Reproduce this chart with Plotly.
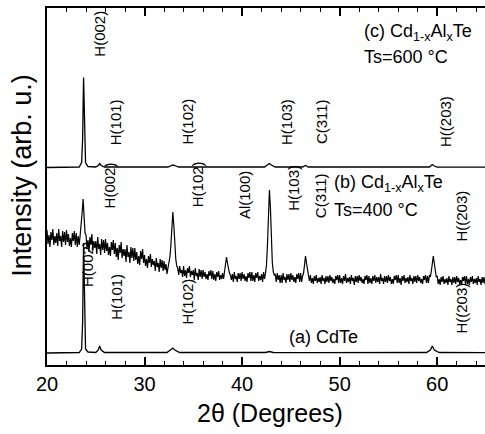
import numpy as np
import plotly.graph_objects as go

# ---- (a) CdTe : peak profile points (2theta, intensity above its baseline)
two_theta_a = [20.0, 23.3, 23.55, 23.65, 23.75, 23.85, 23.95, 24.2,
               25.0, 25.25, 25.4, 25.55, 25.9,
               32.3, 32.7, 32.9, 33.1, 33.6,
               42.4, 42.8, 43.2,
               46.2, 46.5, 46.8,
               58.9, 59.3, 59.5, 59.7, 60.2, 64.9]
intensity_a = [0, 0.5, 4, 30, 110, 28, 4, 1,
               0.5, 3, 7, 3, 0.5,
               0.5, 3, 5, 3, 0.5,
               0.5, 1.5, 0.5,
               0.3, 1, 0.3,
               0.5, 3, 7, 3, 0.5, 0.3]

# ---- (c) Cd1-xAlxTe, Ts = 600 C
two_theta_c = [20.0, 23.3, 23.55, 23.65, 23.75, 23.85, 23.95, 24.2,
               25.0, 25.25, 25.4, 25.55, 25.9,
               32.4, 32.7, 32.9, 33.1, 33.5,
               42.3, 42.6, 42.8, 43.0, 43.4,
               46.2, 46.5, 46.8,
               59.2, 59.5, 59.7, 60.0, 64.9]
intensity_c = [0, 0.5, 5, 28, 90, 25, 5, 1,
               0.5, 2, 4, 2, 0.5,
               0.5, 2, 2.5, 2, 0.5,
               0.5, 2.5, 4, 2.5, 0.5,
               0.5, 2, 0.5,
               0.5, 3, 1.5, 0.3, 0.3]

# ---- (b) Cd1-xAlxTe, Ts = 400 C : measured every 0.1 deg from 20.0 deg
intensity_b = [
    55, 41, 50, 38, 53, 45, 56, 40, 49, 42,   # 20
    52, 39, 56, 44, 49, 38, 54, 43, 53, 40,   # 21
    55, 43, 51, 39, 47, 38, 52, 44, 54, 40,   # 22
    52, 38, 49, 40, 50, 58, 72, 86, 68, 52,   # 23
    50, 36, 45, 33, 48, 40, 51, 35, 44, 37,   # 24
    44, 31, 48, 36, 41, 30, 46, 35, 45, 32,   # 25
    46, 34, 42, 30, 38, 29, 43, 35, 45, 31,   # 26
    42, 28, 37, 25, 40, 32, 43, 27, 36, 29,   # 27
    36, 23, 40, 28, 33, 22, 38, 27, 37, 24,   # 28
    37, 25, 33, 21, 29, 20, 34, 26, 36, 22,   # 29
    30, 19, 26, 17, 29, 22, 31, 18, 26, 20,   # 30
    24, 14, 27, 18, 22, 13, 26, 17, 25, 14,   # 31
    24, 15, 21, 11, 17, 22, 28, 40, 58, 73,   # 32
    60, 40, 26, 19, 17, 10, 19, 12, 15, 8,    # 33
    19, 9, 15, 7, 17, 12, 19, 8, 14, 10,      # 34
    15, 5, 17, 9, 12, 5, 16, 8, 15, 6,        # 35
    15, 8, 13, 6, 11, 5, 14, 9, 15, 6,        # 36
    14, 5, 11, 4, 13, 8, 14, 5, 10, 6,        # 37
    12, 6, 13, 20, 28, 22, 16, 12, 10, 5,     # 38
    11, 3, 13, 6, 9, 3, 12, 6, 12, 4,         # 39
    13, 6, 11, 4, 9, 3, 12, 7, 13, 4,         # 40
    13, 4, 10, 3, 12, 7, 13, 4, 9, 5,         # 41
    11, 3, 13, 6, 12, 20, 40, 75, 95, 78,     # 42
    45, 22, 13, 10, 11, 3, 12, 5, 10, 2,      # 43
    10, 2, 12, 5, 8, 2, 11, 5, 11, 3,         # 44
    12, 5, 10, 3, 8, 2, 11, 6, 12, 3,         # 45
    12, 3, 9, 12, 20, 29, 22, 14, 10, 4,      # 46
    10, 2, 7, 1, 9, 4, 10, 2, 7, 3,           # 47
    8, 1, 10, 4, 7, 1, 9, 3, 9, 2,            # 48
    10, 4, 8, 2, 6, 1, 9, 5, 10, 2,           # 49
    10, 2, 7, 1, 9, 4, 11, 2, 7, 3,           # 50
    8, 1, 10, 4, 7, 0, 9, 3, 9, 2,            # 51
    10, 4, 8, 2, 6, 1, 9, 5, 10, 1,           # 52
    9, 2, 7, 1, 9, 4, 10, 2, 8, 3,            # 53
    8, 1, 11, 4, 7, 1, 9, 3, 9, 2,            # 54
    10, 4, 8, 1, 6, 1, 9, 5, 10, 2,           # 55
    10, 2, 7, 0, 9, 4, 10, 2, 7, 3,           # 56
    8, 1, 10, 4, 7, 1, 9, 3, 9, 2,            # 57
    10, 4, 8, 2, 6, 1, 9, 5, 10, 2,           # 58
    9, 2, 10, 8, 14, 24, 29, 22, 13, 8,       # 59
    9, 1, 6, 0, 8, 3, 9, 1, 6, 2,             # 60
    7, 0, 9, 3, 6, 0, 8, 2, 8, 1,             # 61
    9, 3, 7, 1, 5, 0, 8, 4, 9, 1,             # 62
    9, 1, 6, 0, 8, 3, 9, 1, 6, 2,             # 63
    7, 0, 9, 3, 6, 0, 8, 2, 8, 1,             # 64
]
b_start, b_step = 20.0, 0.1
two_theta_b = np.round(b_start + b_step * np.arange(len(intensity_b)), 2)

# vertical stacking offsets of the three patterns
offset_a, offset_b, offset_c = 12, 80, 197.5

# peak labels: (text, 2theta, height on the plot)
labels_c = [("H(002)", 25.3, 331), ("H(101)", 27.0, 243), ("H(102)", 34.3, 243),
            ("H(103)", 44.5, 243), ("C(311)", 48.1, 243), ("H((203)", 60.8, 243)]
labels_b = [("H(002)", 26.4, 180), ("H(102)", 35.4, 181), ("Al(100)", 40.2, 170),
            ("H(103)", 45.2, 177), ("C(311)", 48.0, 169), ("H((203)", 62.4, 149)]
labels_a = [("H(002)", 24.1, 101), ("H(101)", 27.05, 68), ("H(102)", 34.3, 63),
            ("H((203)", 62.4, 57)]

FONT = "Liberation Sans, Arial, sans-serif"

fig = go.Figure()
fig.add_trace(go.Scatter(x=two_theta_a, y=np.array(intensity_a) + offset_a,
                         mode="lines", line=dict(color="black", width=1.3),
                         name="(a) CdTe"))
fig.add_trace(go.Scatter(x=two_theta_b, y=np.array(intensity_b) + offset_b,
                         mode="lines", line=dict(color="black", width=1.2),
                         name="(b) 400 °C"))
fig.add_trace(go.Scatter(x=two_theta_c, y=np.array(intensity_c) + offset_c,
                         mode="lines", line=dict(color="black", width=1.3),
                         name="(c) 600 °C"))

annotations = []
for text, xx, yy in labels_c + labels_b + labels_a:
    annotations.append(dict(x=xx, y=yy, text=text, textangle=-90, showarrow=False,
                            font=dict(family=FONT, size=15, color="black"),
                            xanchor="center", yanchor="middle"))

sample_text = [
    ("(c) Cd<sub>1-x</sub>Al<sub>x</sub>Te", 52.3, 333),
    ("Ts=600 °C", 52.3, 308),
    ("(b) Cd<sub>1-x</sub>Al<sub>x</sub>Te", 49.2, 182),
    ("Ts=400 °C", 49.2, 155),
    ("(a) CdTe", 44.6, 28),
]
for text, xx, yy in sample_text:
    annotations.append(dict(x=xx, y=yy, text=text, showarrow=False,
                            font=dict(family=FONT, size=18, color="black"),
                            xanchor="left", yanchor="middle"))

# axis titles
annotations.append(dict(xref="paper", yref="paper", x=0.508, y=-0.135,
                        text="2θ (Degrees)", showarrow=False,
                        font=dict(family=FONT, size=25, color="black"),
                        xanchor="center", yanchor="middle"))
annotations.append(dict(xref="paper", yref="paper", x=-0.057, y=0.53,
                        text="Intensity (arb. u.)", textangle=-90, showarrow=False,
                        font=dict(family=FONT, size=27, color="black"),
                        xanchor="center", yanchor="middle"))

fig.update_layout(
    width=485, height=434,
    margin=dict(l=47, r=0, t=8, b=69),
    paper_bgcolor="white", plot_bgcolor="white",
    showlegend=False,
    annotations=annotations,
    font=dict(family=FONT, color="black"),
)
fig.update_xaxes(
    range=[20, 64.9], showgrid=False, zeroline=False,
    showline=True, linecolor="black", linewidth=2, mirror="ticks",
    ticks="inside", ticklen=8, tickwidth=1.5, tickcolor="black",
    tickvals=[20, 30, 40, 50, 60],
    tickfont=dict(family=FONT, size=20, color="black"),
    minor=dict(dtick=2, ticks="inside", ticklen=4, tickwidth=1.2, tickcolor="black"),
)
fig.update_yaxes(
    range=[0, 357], showgrid=False, zeroline=False,
    showline=True, linecolor="black", linewidth=2, mirror=False,
    ticks="", showticklabels=False,
)

fig.write_html("out.html")
